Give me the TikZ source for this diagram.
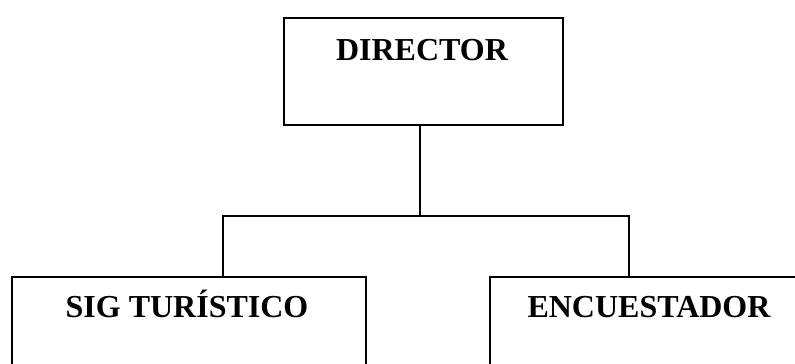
\documentclass[tikz,border=0pt]{standalone}
\usepackage{fontspec}
\setmainfont{Liberation Serif}
\begin{document}
\begin{tikzpicture}[x=1pt,y=-1pt,
  box/.style={draw, line width=1.8pt, inner sep=0pt, anchor=north west},
  lbl/.style={font=\bfseries\fontsize{32}{36}\selectfont, anchor=base, inner sep=0pt},
  conn/.style={line width=1.4pt}]
\clip (0,0) rectangle (795,364);
\fill[white] (0,0) rectangle (795,364);
\node[box, minimum width=279pt, minimum height=107pt] (dir) at (283,17) {};
\node[lbl] (dirt) at (422,60) {DIRECTOR};
\node[box, minimum width=354pt, minimum height=110pt] (sig) at (11,276) {};
\node[lbl] (sigt) at (187,317) {SIG TURÍSTICO};
\node[box, minimum width=330pt, minimum height=110pt] (enc) at (489,276) {};
\node[lbl] (enct) at (649,317) {ENCUESTADOR};
\coordinate (jm) at (420,216);
\coordinate (jl) at (223,216);
\coordinate (jr) at (629,216);
\draw[conn] (jm |- dir.south) -- (jm);
\draw[conn] (jl |- sig.north) -- (jl) -- (jr) -- (jr |- enc.north);
\end{tikzpicture}
\end{document}
